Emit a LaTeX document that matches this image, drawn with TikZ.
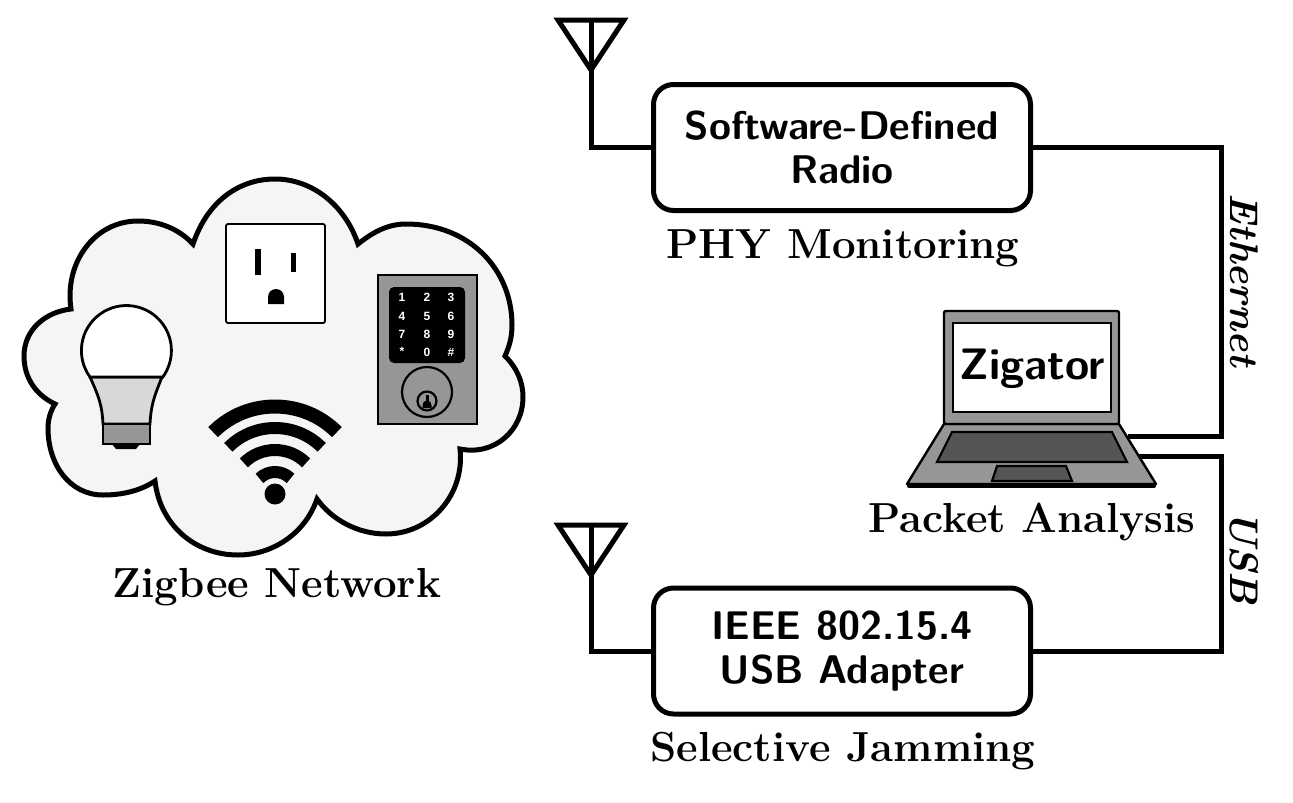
\documentclass[tikz,border=0pt]{standalone}
\usepackage{fontspec}
\setmainfont{Latin Modern Roman}
\setsansfont{Latin Modern Sans}
\newfontfamily\keypadfont{Liberation Sans}
\definecolor{cloudfill}{HTML}{F5F5F5}
\definecolor{midgray}{HTML}{969696}
\definecolor{lightgray2}{HTML}{D8D8D8}
\definecolor{darkgray2}{HTML}{555555}
\tikzset{
  wire/.style={line width=5pt,line join=miter},
  devbox/.style={draw,line width=5pt,rounded corners=20pt,minimum width=377pt,minimum height=126pt,align=center,inner sep=0pt,font=\fontsize{40}{44}\selectfont\sffamily\bfseries},
  capt/.style={inner sep=0pt,font=\fontsize{42}{48}\selectfont\bfseries},
  linklabel/.style={inner sep=0pt,rotate=-90,font=\fontsize{40}{46}\selectfont\bfseries\itshape},
  digit/.style={inner sep=0pt,text=white,font=\fontsize{12}{13}\selectfont\keypadfont\bfseries},
  wifiarc/.style={line width=#1,line cap=butt}
}
\begin{document}
\begin{tikzpicture}[x=1pt,y=-1pt]
\path[use as bounding box,fill=white] (0,0) rectangle (1293,803);
% cloud
\draw[fill=cloudfill,line width=5pt,line join=miter]
  (193,244) .. controls (208,200) and (240,179) .. (275,179)
  .. controls (312,179) and (345,205) .. (358,244)
  .. controls (373,232) and (388,224) .. (406,224)
  .. controls (470,224) and (512,270) .. (512,325)
  .. controls (512,338) and (509,347) .. (505,356)
  .. controls (517,368) and (523,382) .. (523,397)
  .. controls (523,430) and (495,456) .. (460,449)
  .. controls (465,495) and (430,534) .. (386,534)
  .. controls (358,534) and (332,520) .. (317,499)
  .. controls (305,534) and (272,555) .. (238,555)
  .. controls (195,555) and (160,525) .. (155,481)
  .. controls (140,491) and (122,495) .. (103,495)
  .. controls (70,495) and (48,465) .. (48,428)
  .. controls (48,420) and (50,412) .. (55,404)
  .. controls (36,395) and (24,378) .. (24,356)
  .. controls (24,330) and (45,312) .. (71,309)
  .. controls (64,262) and (95,221) .. (138,221)
  .. controls (158,221) and (178,228) .. (193,244) -- cycle;
% bulb
\draw[fill=lightgray2,line width=2.8pt] (90,377) .. controls (99,397) and (102,405) .. (103,424) -- (150,424) .. controls (151,405) and (154,397) .. (162,377) -- cycle;
\draw[fill=white,line width=2.8pt] (90,377) arc[start angle=216,end angle=-36,radius=45pt] -- cycle;
\draw[fill=midgray,line width=2.8pt] (103,424) -- (150,424) -- (150,444) -- (103,444) -- cycle;
\fill (112,444) -- (140,444) -- (136,449) -- (116,449) -- cycle;
% outlet
\draw[fill=white,line width=1.8pt,rounded corners=2pt] (226,224) rectangle (325,323);
\fill (255,249) rectangle (261,275);
\fill (291,253) rectangle (296,272);
\fill (268,304) -- (268,297) arc[start angle=180,end angle=0,radius=8pt] -- (284,304) -- cycle;
% lock
\draw[fill=midgray,line width=2.6pt] (378,275) rectangle (477,424);
\fill[rounded corners=5pt] (389,287) rectangle (465,363);
\node[digit] (d1) at (402,297) {1};
\node[digit] (d2) at (427,297) {2};
\node[digit] (d3) at (451,297) {3};
\node[digit] (d4) at (402,316) {4};
\node[digit] (d5) at (427,316) {5};
\node[digit] (d6) at (451,316) {6};
\node[digit] (d7) at (402,334.5) {7};
\node[digit] (d8) at (427,334.5) {8};
\node[digit] (d9) at (451,334.5) {9};
\node[digit] (dstar) at (402,351) {*};
\node[digit] (d0) at (427,352.5) {0};
\node[digit] (dhash) at (451,352.5) {\#};
\draw[line width=2.2pt] (427,392) circle[radius=25pt];
\draw[line width=2.2pt] (427,401) circle[radius=9.5pt];
\fill (425.5,395) rectangle (428.5,403);
\fill (422.5,408) -- (422.5,405) arc[start angle=180,end angle=0,radius=4.5pt] -- (431.5,408) -- cycle;
% wifi
\fill (275,494) circle[radius=10.5pt];
\draw[wifiarc=12pt] (275,494) ++(135:22pt) arc[start angle=135,end angle=45,radius=22pt];
\draw[wifiarc=12pt] (275,494) ++(135:44pt) arc[start angle=135,end angle=45,radius=44pt];
\draw[wifiarc=12pt] (275,494) ++(135:66pt) arc[start angle=135,end angle=45,radius=66pt];
\draw[wifiarc=14pt] (275,494) ++(135:87.5pt) arc[start angle=135,end angle=45,radius=87.5pt];
\node[capt] (zig) at (277,587) {Zigbee Network};
% boxes
\node[devbox] (sdr) at (842,147.5) {Software-Defined\\Radio};
\node[devbox] (usbad) at (842,651) {IEEE 802.15.4\\USB Adapter};
\node[capt] (phy) at (843,248) {PHY Monitoring};
\node[capt] (jam) at (843,751) {Selective Jamming};
\node[capt] (pkt) at (1032,522) {Packet Analysis};
\node[linklabel] (eth) at (1244,280) {Ethernet};
\node[linklabel] (usbl) at (1244,557) {USB};
% antennas
\coordinate (anta) at (591,70);
\coordinate (antb) at (591,575);
\draw[wire] (558,20) -- (624,20) -- (anta) -- cycle;
\draw[wire] (591,20) -- (anta);
\draw[wire] (558,525) -- (624,525) -- (antb) -- cycle;
\draw[wire] (591,525) -- (antb);
\draw[wire] (anta) |- (sdr.west);
\draw[wire] (antb) |- (usbad.west);
% links
\coordinate (lapeth) at (1128,436);
\coordinate (lapusb) at (1138,456);
\draw[wire] (sdr.east) -| (1221,436) -- (lapeth);
\draw[wire] (usbad.east) -| (1221,456) -- (lapusb);
% laptop
\draw[fill=midgray,line width=2.4pt,line join=round] (944,424) -- (1119,424) -- (1156,484) -- (907,484) -- cycle;
\draw[line width=4pt,line cap=round] (909,486) -- (1154,486);
\draw[fill=midgray,line width=2.4pt,rounded corners=2pt] (944,424) rectangle (1119,311);
\draw[fill=white,line width=2.4pt] (953,323) rectangle (1111,412);
\draw[fill=darkgray2,line width=2.2pt] (952,432) -- (1112,432) -- (1127,462) -- (937,462) -- cycle;
\draw[fill=darkgray2,line width=2.2pt] (997,466) -- (1066,466) -- (1072,481) -- (992,481) -- cycle;
\node[inner sep=0pt,font=\fontsize{44}{50}\selectfont\sffamily\bfseries] (zigator) at (1032,369) {Zigator};
\end{tikzpicture}
\end{document}
